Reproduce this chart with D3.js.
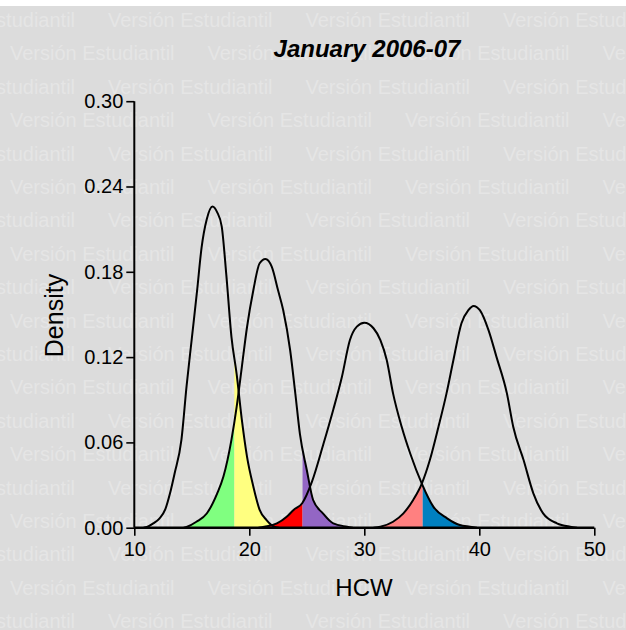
<!DOCTYPE html>
<html>
<head>
<meta charset="utf-8">
<script src="https://cdn.jsdelivr.net/npm/d3@7"></script>
<style>
html,body{margin:0;padding:0;background:#ffffff;}
svg{display:block;}
text{font-family:"Liberation Sans", Arial, Helvetica, sans-serif;}
</style>
</head>
<body>
<svg id="chart" width="626" height="630"></svg>
<script>
// ---- data ----
const title = "January 2006-07";
const xLabel = "HCW";
const yLabel = "Density";
const watermarkText = "Versión Estudiantil";

const xTicks = [10, 20, 30, 40, 50];
const yTicks = [0.00, 0.06, 0.12, 0.18, 0.24, 0.30];

// density curve 1 (peak near 16.8)
const c1x = [10.8, 11.1, 11.65, 12.2, 12.7, 13.1, 13.5, 14.1, 14.55, 15.0, 15.45, 15.85, 16.3, 16.8, 17.2, 17.6, 18.0, 18.45, 18.9, 19.35, 19.8, 20.35, 20.9, 21.5, 22.1, 22.6];
const c1y = [0, 0.0005, 0.003, 0.0066, 0.013, 0.024, 0.038, 0.062, 0.100, 0.133, 0.166, 0.197, 0.217, 0.226, 0.222, 0.212, 0.178, 0.134, 0.108, 0.076, 0.050, 0.029, 0.0125, 0.0054, 0.001, 0];
// density curve 2 (peak near 21.4)
const c2x = [14.3, 14.6, 15.4, 16.3, 17.2, 17.75, 18.45, 18.9, 19.35, 19.8, 20.35, 20.9, 21.4, 21.95, 22.5, 22.95, 23.55, 24.0, 24.4, 25.0, 25.55, 26.4, 27.3, 28.5, 29.0];
const c2y = [0, 0.0007, 0.0042, 0.010, 0.024, 0.036, 0.062, 0.085, 0.113, 0.141, 0.167, 0.186, 0.189, 0.1836, 0.167, 0.153, 0.125, 0.0945, 0.066, 0.0406, 0.0195, 0.0101, 0.003, 0.0007, 0];
// density curve 3 (peak near 30.0)
const c3x = [20.8, 21.3, 22.4, 23.25, 23.85, 24.6, 25.45, 26.45, 27.3, 28.05, 28.75, 29.35, 30.0, 30.8, 31.4, 31.95, 32.5, 33.25, 34.0, 35.0, 36.0, 37.2, 38.3, 39.2, 39.8];
const c3y = [0, 0.0007, 0.003, 0.0077, 0.0125, 0.0172, 0.0324, 0.059, 0.083, 0.106, 0.132, 0.1414, 0.1442, 0.1403, 0.132, 0.118, 0.0945, 0.071, 0.052, 0.031, 0.0148, 0.0066, 0.0019, 0.0007, 0];
// density curve 4 (peak near 39.5)
const c4x = [30.8, 31.4, 32.5, 33.4, 34.25, 35.0, 35.7, 36.45, 37.15, 37.75, 38.45, 39.05, 39.5, 40.05, 40.8, 41.5, 42.4, 42.95, 43.85, 44.7, 45.55, 46.75, 47.9, 48.5];
const c4y = [0, 0.0007, 0.0042, 0.0101, 0.0195, 0.031, 0.0476, 0.071, 0.0945, 0.118, 0.1438, 0.153, 0.156, 0.153, 0.139, 0.120, 0.0945, 0.071, 0.0476, 0.0242, 0.0101, 0.0031, 0.0007, 0];

// cut points between neighbouring groups
const cutoffs = [18.7, 24.63, 35.08];
// shaded tails: curve index, side of the cut, colour
const regionCurve = [1, 0, 2, 1, 3, 2];
const regionCut   = [0, 0, 1, 1, 2, 2];
const regionSide  = ["left", "right", "left", "right", "left", "right"];
const regionColor = ["#80ff80", "#ffff80", "#ff0000", "#9366c4", "#ff8080", "#0080c0"];

// ---- drawing ----
const W = 626, H = 630;
const svg = d3.select("#chart");

const curves = [c1x.map((v,i)=>[v,c1y[i]]), c2x.map((v,i)=>[v,c2y[i]]),
                c3x.map((v,i)=>[v,c3y[i]]), c4x.map((v,i)=>[v,c4y[i]])];

const x = d3.scaleLinear().domain([10, 50]).range([134.3, 594.3]);
const y = d3.scaleLinear().domain([0, 0.30]).range([527.7, 101.2]);

// background
svg.append("rect").attr("x",0).attr("y",0).attr("width",W).attr("height",H).attr("fill","#ffffff");
svg.append("rect").attr("x",0).attr("y",6).attr("width",W).attr("height",H-6).attr("fill","#dcdcdc");

// watermark rows
const wm = svg.append("g").attr("fill","#e5e5e5").style("font-size","20px");
const rowStep = 33.4, colStep = 197.5;
for (let r = 0; r < 20; r++) {
  const by = 27 + r*rowStep;
  const off = (r % 2 === 0) ? 108 - colStep : 10;
  for (let k = 0; k < 5; k++) {
    wm.append("text").attr("x", off + k*colStep).attr("y", by).text(watermarkText);
  }
}

// shaded regions
const area = d3.area().x(d=>x(d[0])).y0(y(0)).y1(d=>y(d[1])).curve(d3.curveMonotoneX);
const defs = svg.append("defs");
regionCurve.forEach((ci, i) => {
  const cut = cutoffs[regionCut[i]];
  const lo = regionSide[i] === "left" ? 0 : cut;
  const hi = regionSide[i] === "left" ? cut : 60;
  const id = "clip" + i;
  defs.append("clipPath").attr("id", id).append("rect")
    .attr("x", x(lo)).attr("y", 0).attr("width", x(hi) - x(lo)).attr("height", H);
  svg.append("path").datum(curves[ci]).attr("d", area)
    .attr("fill", regionColor[i]).attr("clip-path", `url(#${id})`);
});

// curves
const line = d3.line().x(d=>x(d[0])).y(d=>y(d[1])).curve(d3.curveMonotoneX);
curves.forEach(c => {
  svg.append("path").datum(c).attr("d", line)
    .attr("fill","none").attr("stroke","#000").attr("stroke-width",2).attr("stroke-linejoin","round");
});

// axes
const fmt = d3.format(".2f");
const yAxis = d3.axisLeft(y).tickValues(yTicks).tickFormat(fmt).tickSize(8).tickPadding(3);
const xAxis = d3.axisBottom(x).tickValues(xTicks).tickFormat(d3.format("d")).tickSize(8).tickPadding(6);

const gy = svg.append("g").attr("transform", `translate(${x(10)},0)`).call(yAxis);
const gx = svg.append("g").attr("transform", `translate(0,${y(0)})`).call(xAxis);
[gx, gy].forEach(g => {
  g.select(".domain").remove();
  g.selectAll(".tick line").attr("stroke","#000").attr("stroke-width",1.6);
  g.selectAll(".tick text").attr("fill","#000").style("font-size","20px")
    .style("font-family",'"Liberation Sans", Arial, sans-serif');
});
// axis lines
svg.append("line").attr("x1", x(10)).attr("x2", x(10)).attr("y1", y(0.30)).attr("y2", y(0))
  .attr("stroke","#000").attr("stroke-width",2);
svg.append("line").attr("x1", x(10)).attr("x2", x(50)).attr("y1", y(0)).attr("y2", y(0))
  .attr("stroke","#000").attr("stroke-width",2.5);

// titles
svg.append("text").attr("x", 367).attr("y", 57).attr("text-anchor","middle")
  .style("font-size","24px").style("font-weight","bold").style("font-style","italic").text(title);
svg.append("text").attr("x", 364).attr("y", 596).attr("text-anchor","middle")
  .style("font-size","24px").text(xLabel);
svg.append("text").attr("transform","translate(63,315.5) rotate(-90)").attr("text-anchor","middle")
  .style("font-size","25px").text(yLabel);
</script>
</body>
</html>
